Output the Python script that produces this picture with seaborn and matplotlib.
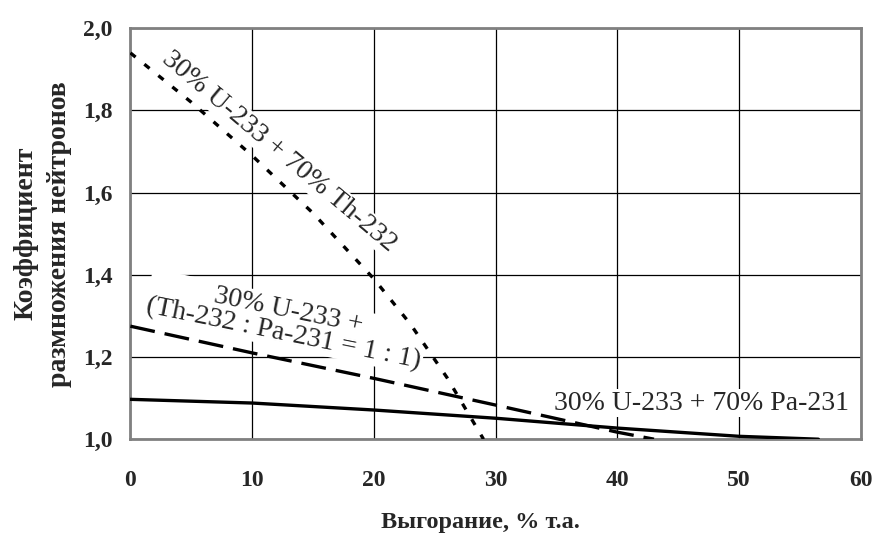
import numpy as np
import pandas as pd
import matplotlib
matplotlib.use("Agg")
import matplotlib.pyplot as plt
import matplotlib.ticker as mticker
import seaborn as sns

# burnup, % FIMA
x_th = [0, 5, 10, 15, 20, 23, 26, 28, 29]
k_th = [1.94, 1.82, 1.69, 1.55, 1.39, 1.28, 1.15, 1.05, 1.0]

x_mix = [0, 10, 20, 30, 40, 43]
k_mix = [1.275, 1.21, 1.148, 1.083, 1.017, 1.0]

x_pa = [0, 10, 20, 30, 40, 50, 56.5]
k_pa = [1.097, 1.088, 1.071, 1.051, 1.027, 1.007, 1.0]

x_ticks = [0, 10, 20, 30, 40, 50, 60]
y_ticks = [1.0, 1.2, 1.4, 1.6, 1.8, 2.0]

lbl_th = "30% U-233 + 70% Th-232"
lbl_mix = "30% U-233 +\n(Th-232 : Pa-231 = 1 : 1)"
lbl_pa = "30% U-233 + 70% Pa-231"

sns.set_theme(style="white")
plt.rcParams['font.family'] = ['Liberation Serif', 'DejaVu Serif']

fig, ax = plt.subplots(figsize=(8.75, 5.33), dpi=100)
fig.subplots_adjust(left=0.149, right=0.984, top=0.947, bottom=0.176)

df_th = pd.DataFrame({"x": x_th, "k": k_th})
df_mix = pd.DataFrame({"x": x_mix, "k": k_mix})
df_pa = pd.DataFrame({"x": x_pa, "k": k_pa})

sns.lineplot(data=df_th, x="x", y="k", ax=ax, color="black", lw=2.4,
             linestyle=(0, (2.0, 3.4)), zorder=3)
sns.lineplot(data=df_mix, x="x", y="k", ax=ax, color="black", lw=2.4,
             linestyle=(0, (7.5, 3)), zorder=3)
sns.lineplot(data=df_pa, x="x", y="k", ax=ax, color="black", lw=2.4,
             zorder=3)

ax.set_xlim(0, 60)
ax.set_ylim(1.0, 2.0)
ax.set_xticks(x_ticks)
ax.set_yticks(y_ticks)
ax.yaxis.set_major_formatter(mticker.FuncFormatter(lambda v, p: f"{v:.1f}".replace(".", ",")))
ax.grid(True, color="black", lw=0.9)
ax.set_axisbelow(True)
for s in ax.spines.values():
    s.set_color("#808080")
    s.set_linewidth(2)

ax.tick_params(axis="x", length=0, labelsize=17, pad=22)
ax.tick_params(axis="y", length=0, labelsize=17, pad=13)
for t in ax.get_xticklabels() + ax.get_yticklabels():
    t.set_fontweight("bold")

ax.set_xlabel("Выгорание, % т.а.", fontsize=17.5, fontweight="bold")
ax.xaxis.set_label_coords(0.479, -0.178)
ax.set_ylabel("Коэффициент\nразмножения нейтронов", fontsize=20,
              fontweight="bold", labelpad=8, linespacing=1.4)

box = dict(facecolor="white", edgecolor="none", pad=1)
ax.text(12.2, 1.70, lbl_th, rotation=-40, fontsize=20, ha="center", va="center",
        rotation_mode="anchor", bbox=box, zorder=2)
ax.text(12.8, 1.285, lbl_mix, rotation=-11.5, fontsize=20, ha="center", va="center",
        multialignment="center", rotation_mode="anchor", bbox=box, zorder=2,
        linespacing=0.95)
ax.text(46.9, 1.088, lbl_pa, fontsize=20, ha="center", va="center", bbox=box,
        zorder=2)

fig.savefig("out.png", dpi=100)
